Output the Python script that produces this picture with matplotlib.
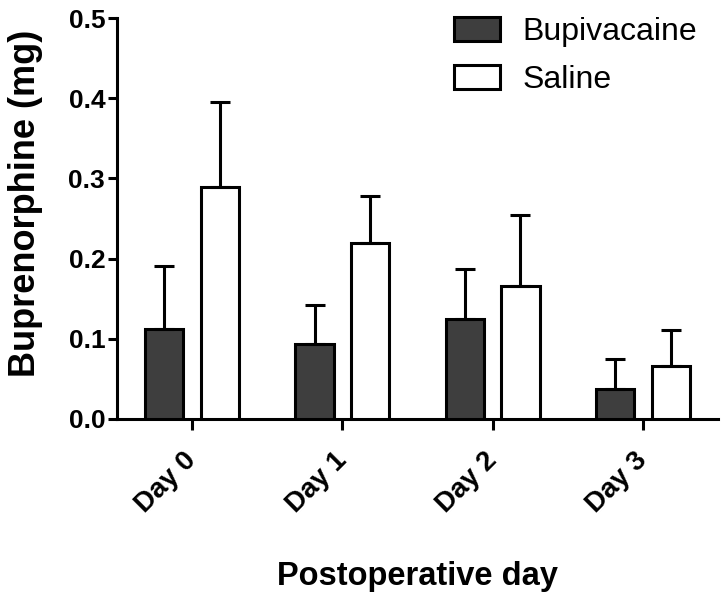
import numpy as np
import matplotlib
matplotlib.use('Agg')
import matplotlib.pyplot as plt
from matplotlib.transforms import ScaledTranslation

plt.rcParams['font.family'] = ['Liberation Sans', 'DejaVu Sans']

days = ['Day 0', 'Day 1', 'Day 2', 'Day 3']
bupi_mean = [0.112, 0.093, 0.125, 0.038]
bupi_top = [0.191, 0.142, 0.187, 0.075]
saline_mean = [0.289, 0.219, 0.166, 0.066]
saline_top = [0.395, 0.278, 0.254, 0.111]

W, H = 726, 599
fig = plt.figure(figsize=(W / 100, H / 100), dpi=100)
ax = fig.add_axes([117 / W, 1 - 419 / H, (718 - 117) / W, (419 - 18) / H])

x = np.arange(len(days))
bw = 0.255
off = 0.185
lw = 2.2

bupi_err = np.array(bupi_top) - np.array(bupi_mean)
sal_err = np.array(saline_top) - np.array(saline_mean)

ekw = dict(elinewidth=lw, capthick=lw, ecolor='black')
ax.bar(x - off, bupi_mean, bw, color='#3e3e3e', edgecolor='black', linewidth=lw,
       label='Bupivacaine', yerr=[np.zeros(4), bupi_err], capsize=7.5, error_kw=ekw, zorder=3)
ax.bar(x + off, saline_mean, bw, color='white', edgecolor='black', linewidth=lw,
       label='Saline', yerr=[np.zeros(4), sal_err], capsize=7.5, error_kw=ekw, zorder=3)

ax.set_xlim(-0.5, 3.5)
ax.set_ylim(0, 0.5)
ax.set_yticks([0.0, 0.1, 0.2, 0.3, 0.4, 0.5])
ax.set_yticklabels(['0.0', '0.1', '0.2', '0.3', '0.4', '0.5'], fontsize=19, fontweight='bold')
ax.set_xticks(x)
ax.set_xticklabels([])

# rotated day labels, placed by hand below each tick
shift = ScaledTranslation(-9 / 100, -28 / 100, fig.dpi_scale_trans)
for xi, d in zip(x, days):
    ax.text(xi, 0, d, transform=ax.get_xaxis_transform() + shift, fontsize=20,
            fontweight='bold', rotation=45, ha='right', va='top', rotation_mode='anchor')

for s in ['top', 'right']:
    ax.spines[s].set_visible(False)
for s in ['left', 'bottom']:
    ax.spines[s].set_linewidth(lw)
ax.tick_params(axis='y', width=lw, length=6.5, pad=2)
ax.tick_params(axis='x', width=lw, length=8, pad=8)

fig.text(26 / W, 1 - 203 / H, 'Buprenorphine (mg)', fontsize=26, fontweight='bold',
         rotation=90, ha='center', va='center')
fig.text(417 / W, 1 - 576 / H, 'Postoperative day', fontsize=23.5, fontweight='bold',
         ha='center', va='center')

ax.legend(loc='upper left', bbox_to_anchor=(454 / W, 1 - 17 / H), bbox_transform=fig.transFigure,
          frameon=False, fontsize=23, handlelength=1.45, handleheight=0.8,
          handletextpad=0.7, labelspacing=0.55, borderpad=0, borderaxespad=0)

fig.savefig('out.png', dpi=100)
